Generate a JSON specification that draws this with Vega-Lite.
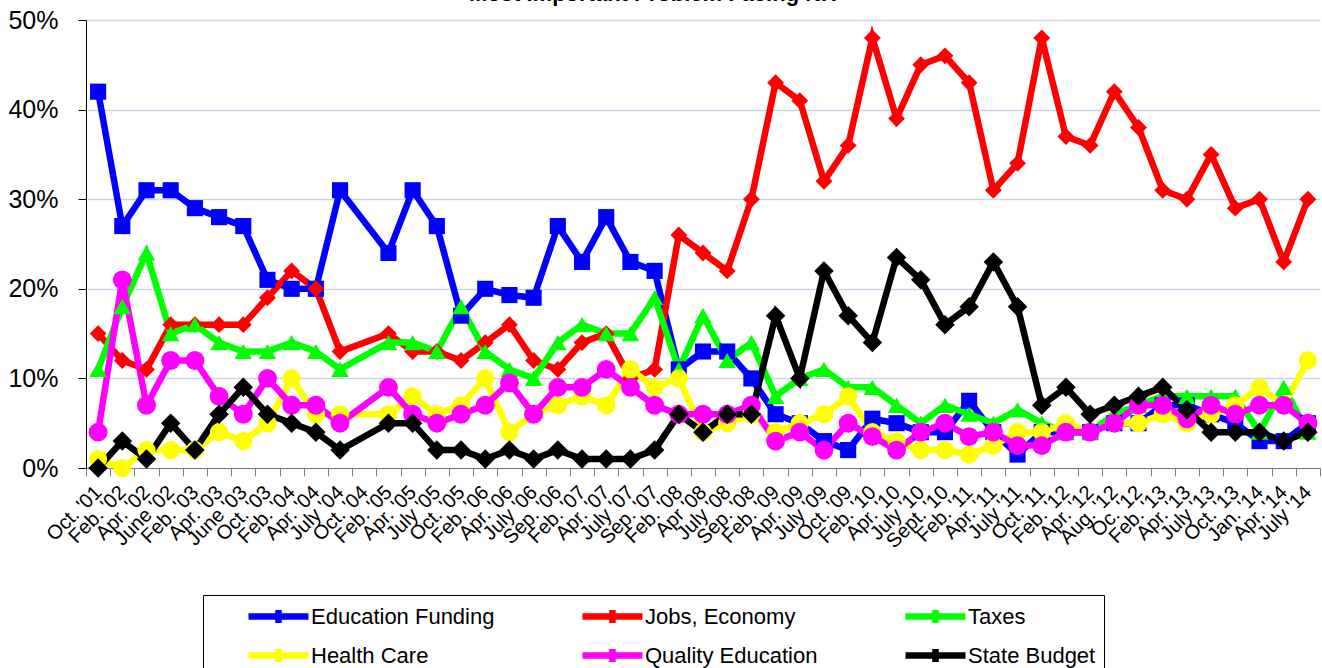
{
"$schema": "https://vega.github.io/schema/vega-lite/v6.json",
"width": 1234, "height": 448,
"autosize": {"type": "none"},
"padding": {"left": 86, "top": 20, "right": 2, "bottom": 200},
"background": "white",
"title": {"text": "Most Important Problem Facing NH", "font": "Liberation Sans", "fontSize": 22, "fontWeight": "bold", "color": "black", "anchor": "middle", "dx": -50, "dy": 4, "offset": -11, "baseline": "alphabetic"},
"config": {"view": {"stroke": null}, "font": "Liberation Sans"},
"datasets": {"t": [
{"d":"Oct. '01","s":"Education Funding","v":42},{"d":"Feb. '02","s":"Education Funding","v":27},{"d":"Apr. '02","s":"Education Funding","v":31},{"d":"June '02","s":"Education Funding","v":31},{"d":"Feb. '03","s":"Education Funding","v":29},{"d":"Apr. '03","s":"Education Funding","v":28},{"d":"June '03","s":"Education Funding","v":27},{"d":"Oct. '03","s":"Education Funding","v":21},{"d":"Feb. '04","s":"Education Funding","v":20},{"d":"Apr. '04","s":"Education Funding","v":20},{"d":"July '04","s":"Education Funding","v":31},{"d":"Feb. '05","s":"Education Funding","v":24},{"d":"Apr. '05","s":"Education Funding","v":31},{"d":"July '05","s":"Education Funding","v":27},{"d":"Oct. '05","s":"Education Funding","v":17},{"d":"Feb. '06","s":"Education Funding","v":20},{"d":"Apr. '06","s":"Education Funding","v":19.3},{"d":"July '06","s":"Education Funding","v":19},{"d":"Sep. '06","s":"Education Funding","v":27},{"d":"Feb. '07","s":"Education Funding","v":23},{"d":"Apr. '07","s":"Education Funding","v":28},{"d":"July '07","s":"Education Funding","v":23},{"d":"Sep. '07","s":"Education Funding","v":22},{"d":"Feb. '08","s":"Education Funding","v":11},{"d":"Apr '08","s":"Education Funding","v":13},{"d":"July '08","s":"Education Funding","v":13},{"d":"Sep. '08","s":"Education Funding","v":10},{"d":"Feb. '09","s":"Education Funding","v":6},{"d":"Apr. '09","s":"Education Funding","v":5},{"d":"July '09","s":"Education Funding","v":3},{"d":"Oct. '09","s":"Education Funding","v":2},{"d":"Feb. '10","s":"Education Funding","v":5.5},{"d":"Apr. '10","s":"Education Funding","v":5},{"d":"July '10","s":"Education Funding","v":4},{"d":"Sept. '10","s":"Education Funding","v":4},{"d":"Feb. '11","s":"Education Funding","v":7.5},{"d":"Apr. '11","s":"Education Funding","v":4},{"d":"July '11","s":"Education Funding","v":1.5},{"d":"Oct. '11","s":"Education Funding","v":4},{"d":"Feb. '12","s":"Education Funding","v":4},{"d":"Apr. '12","s":"Education Funding","v":4},{"d":"Aug. '12","s":"Education Funding","v":5},{"d":"Oc. '12","s":"Education Funding","v":5},{"d":"Feb. '13","s":"Education Funding","v":7},{"d":"Apr. '13","s":"Education Funding","v":7},{"d":"July '13","s":"Education Funding","v":6},{"d":"Oct. '13","s":"Education Funding","v":5},{"d":"Jan. '14","s":"Education Funding","v":3},{"d":"Apr. '14","s":"Education Funding","v":3},{"d":"July '14","s":"Education Funding","v":5},
{"d":"Oct. '01","s":"Jobs, Economy","v":15},{"d":"Feb. '02","s":"Jobs, Economy","v":12},{"d":"Apr. '02","s":"Jobs, Economy","v":11},{"d":"June '02","s":"Jobs, Economy","v":16},{"d":"Feb. '03","s":"Jobs, Economy","v":16},{"d":"Apr. '03","s":"Jobs, Economy","v":16},{"d":"June '03","s":"Jobs, Economy","v":16},{"d":"Oct. '03","s":"Jobs, Economy","v":19},{"d":"Feb. '04","s":"Jobs, Economy","v":22},{"d":"Apr. '04","s":"Jobs, Economy","v":20},{"d":"July '04","s":"Jobs, Economy","v":13},{"d":"Feb. '05","s":"Jobs, Economy","v":15},{"d":"Apr. '05","s":"Jobs, Economy","v":13},{"d":"July '05","s":"Jobs, Economy","v":13},{"d":"Oct. '05","s":"Jobs, Economy","v":12},{"d":"Feb. '06","s":"Jobs, Economy","v":14},{"d":"Apr. '06","s":"Jobs, Economy","v":16},{"d":"July '06","s":"Jobs, Economy","v":12},{"d":"Sep. '06","s":"Jobs, Economy","v":11},{"d":"Feb. '07","s":"Jobs, Economy","v":14},{"d":"Apr. '07","s":"Jobs, Economy","v":15},{"d":"July '07","s":"Jobs, Economy","v":10},{"d":"Sep. '07","s":"Jobs, Economy","v":11},{"d":"Feb. '08","s":"Jobs, Economy","v":26},{"d":"Apr '08","s":"Jobs, Economy","v":24},{"d":"July '08","s":"Jobs, Economy","v":22},{"d":"Sep. '08","s":"Jobs, Economy","v":30},{"d":"Feb. '09","s":"Jobs, Economy","v":43},{"d":"Apr. '09","s":"Jobs, Economy","v":41},{"d":"July '09","s":"Jobs, Economy","v":32},{"d":"Oct. '09","s":"Jobs, Economy","v":36},{"d":"Feb. '10","s":"Jobs, Economy","v":48},{"d":"Apr. '10","s":"Jobs, Economy","v":39},{"d":"July '10","s":"Jobs, Economy","v":45},{"d":"Sept. '10","s":"Jobs, Economy","v":46},{"d":"Feb. '11","s":"Jobs, Economy","v":43},{"d":"Apr. '11","s":"Jobs, Economy","v":31},{"d":"July '11","s":"Jobs, Economy","v":34},{"d":"Oct. '11","s":"Jobs, Economy","v":48},{"d":"Feb. '12","s":"Jobs, Economy","v":37},{"d":"Apr. '12","s":"Jobs, Economy","v":36},{"d":"Aug. '12","s":"Jobs, Economy","v":42},{"d":"Oc. '12","s":"Jobs, Economy","v":38},{"d":"Feb. '13","s":"Jobs, Economy","v":31},{"d":"Apr. '13","s":"Jobs, Economy","v":30},{"d":"July '13","s":"Jobs, Economy","v":35},{"d":"Oct. '13","s":"Jobs, Economy","v":29},{"d":"Jan. '14","s":"Jobs, Economy","v":30},{"d":"Apr. '14","s":"Jobs, Economy","v":23},{"d":"July '14","s":"Jobs, Economy","v":30},
{"d":"Oct. '01","s":"Taxes","v":11},{"d":"Feb. '02","s":"Taxes","v":18},{"d":"Apr. '02","s":"Taxes","v":24},{"d":"June '02","s":"Taxes","v":15},{"d":"Feb. '03","s":"Taxes","v":16},{"d":"Apr. '03","s":"Taxes","v":14},{"d":"June '03","s":"Taxes","v":13},{"d":"Oct. '03","s":"Taxes","v":13},{"d":"Feb. '04","s":"Taxes","v":14},{"d":"Apr. '04","s":"Taxes","v":13},{"d":"July '04","s":"Taxes","v":11},{"d":"Feb. '05","s":"Taxes","v":14},{"d":"Apr. '05","s":"Taxes","v":14},{"d":"July '05","s":"Taxes","v":13},{"d":"Oct. '05","s":"Taxes","v":18},{"d":"Feb. '06","s":"Taxes","v":13},{"d":"Apr. '06","s":"Taxes","v":11},{"d":"July '06","s":"Taxes","v":10},{"d":"Sep. '06","s":"Taxes","v":14},{"d":"Feb. '07","s":"Taxes","v":16},{"d":"Apr. '07","s":"Taxes","v":15},{"d":"July '07","s":"Taxes","v":15},{"d":"Sep. '07","s":"Taxes","v":19},{"d":"Feb. '08","s":"Taxes","v":11},{"d":"Apr '08","s":"Taxes","v":17},{"d":"July '08","s":"Taxes","v":12},{"d":"Sep. '08","s":"Taxes","v":14},{"d":"Feb. '09","s":"Taxes","v":8},{"d":"Apr. '09","s":"Taxes","v":10},{"d":"July '09","s":"Taxes","v":11},{"d":"Oct. '09","s":"Taxes","v":9},{"d":"Feb. '10","s":"Taxes","v":9},{"d":"Apr. '10","s":"Taxes","v":7},{"d":"July '10","s":"Taxes","v":5},{"d":"Sept. '10","s":"Taxes","v":7},{"d":"Feb. '11","s":"Taxes","v":6},{"d":"Apr. '11","s":"Taxes","v":5},{"d":"July '11","s":"Taxes","v":6.5},{"d":"Oct. '11","s":"Taxes","v":5},{"d":"Feb. '12","s":"Taxes","v":4},{"d":"Apr. '12","s":"Taxes","v":4},{"d":"Aug. '12","s":"Taxes","v":6},{"d":"Oc. '12","s":"Taxes","v":7},{"d":"Feb. '13","s":"Taxes","v":8},{"d":"Apr. '13","s":"Taxes","v":8},{"d":"July '13","s":"Taxes","v":8},{"d":"Oct. '13","s":"Taxes","v":8},{"d":"Jan. '14","s":"Taxes","v":4},{"d":"Apr. '14","s":"Taxes","v":9},{"d":"July '14","s":"Taxes","v":4},
{"d":"Oct. '01","s":"Health Care","v":1},{"d":"Feb. '02","s":"Health Care","v":0},{"d":"Apr. '02","s":"Health Care","v":2},{"d":"June '02","s":"Health Care","v":2},{"d":"Feb. '03","s":"Health Care","v":2},{"d":"Apr. '03","s":"Health Care","v":4},{"d":"June '03","s":"Health Care","v":3},{"d":"Oct. '03","s":"Health Care","v":5},{"d":"Feb. '04","s":"Health Care","v":10},{"d":"Apr. '04","s":"Health Care","v":6},{"d":"July '04","s":"Health Care","v":6},{"d":"Feb. '05","s":"Health Care","v":6},{"d":"Apr. '05","s":"Health Care","v":8},{"d":"July '05","s":"Health Care","v":6},{"d":"Oct. '05","s":"Health Care","v":7},{"d":"Feb. '06","s":"Health Care","v":10},{"d":"Apr. '06","s":"Health Care","v":4},{"d":"July '06","s":"Health Care","v":6},{"d":"Sep. '06","s":"Health Care","v":7},{"d":"Feb. '07","s":"Health Care","v":8},{"d":"Apr. '07","s":"Health Care","v":7},{"d":"July '07","s":"Health Care","v":11},{"d":"Sep. '07","s":"Health Care","v":9},{"d":"Feb. '08","s":"Health Care","v":10},{"d":"Apr '08","s":"Health Care","v":4},{"d":"July '08","s":"Health Care","v":5},{"d":"Sep. '08","s":"Health Care","v":6},{"d":"Feb. '09","s":"Health Care","v":4},{"d":"Apr. '09","s":"Health Care","v":5},{"d":"July '09","s":"Health Care","v":6},{"d":"Oct. '09","s":"Health Care","v":8},{"d":"Feb. '10","s":"Health Care","v":4},{"d":"Apr. '10","s":"Health Care","v":3},{"d":"July '10","s":"Health Care","v":2},{"d":"Sept. '10","s":"Health Care","v":2},{"d":"Feb. '11","s":"Health Care","v":1.5},{"d":"Apr. '11","s":"Health Care","v":2.5},{"d":"July '11","s":"Health Care","v":4},{"d":"Oct. '11","s":"Health Care","v":4},{"d":"Feb. '12","s":"Health Care","v":5},{"d":"Apr. '12","s":"Health Care","v":4},{"d":"Aug. '12","s":"Health Care","v":5},{"d":"Oc. '12","s":"Health Care","v":5},{"d":"Feb. '13","s":"Health Care","v":6},{"d":"Apr. '13","s":"Health Care","v":5},{"d":"July '13","s":"Health Care","v":6},{"d":"Oct. '13","s":"Health Care","v":7},{"d":"Jan. '14","s":"Health Care","v":9},{"d":"Apr. '14","s":"Health Care","v":7},{"d":"July '14","s":"Health Care","v":12},
{"d":"Oct. '01","s":"Quality Education","v":4},{"d":"Feb. '02","s":"Quality Education","v":21},{"d":"Apr. '02","s":"Quality Education","v":7},{"d":"June '02","s":"Quality Education","v":12},{"d":"Feb. '03","s":"Quality Education","v":12},{"d":"Apr. '03","s":"Quality Education","v":8},{"d":"June '03","s":"Quality Education","v":6},{"d":"Oct. '03","s":"Quality Education","v":10},{"d":"Feb. '04","s":"Quality Education","v":7},{"d":"Apr. '04","s":"Quality Education","v":7},{"d":"July '04","s":"Quality Education","v":5},{"d":"Feb. '05","s":"Quality Education","v":9},{"d":"Apr. '05","s":"Quality Education","v":6},{"d":"July '05","s":"Quality Education","v":5},{"d":"Oct. '05","s":"Quality Education","v":6},{"d":"Feb. '06","s":"Quality Education","v":7},{"d":"Apr. '06","s":"Quality Education","v":9.5},{"d":"July '06","s":"Quality Education","v":6},{"d":"Sep. '06","s":"Quality Education","v":9},{"d":"Feb. '07","s":"Quality Education","v":9},{"d":"Apr. '07","s":"Quality Education","v":11},{"d":"July '07","s":"Quality Education","v":9},{"d":"Sep. '07","s":"Quality Education","v":7},{"d":"Feb. '08","s":"Quality Education","v":6},{"d":"Apr '08","s":"Quality Education","v":6},{"d":"July '08","s":"Quality Education","v":6},{"d":"Sep. '08","s":"Quality Education","v":7},{"d":"Feb. '09","s":"Quality Education","v":3},{"d":"Apr. '09","s":"Quality Education","v":4},{"d":"July '09","s":"Quality Education","v":2},{"d":"Oct. '09","s":"Quality Education","v":5},{"d":"Feb. '10","s":"Quality Education","v":3.5},{"d":"Apr. '10","s":"Quality Education","v":2},{"d":"July '10","s":"Quality Education","v":4},{"d":"Sept. '10","s":"Quality Education","v":5},{"d":"Feb. '11","s":"Quality Education","v":3.5},{"d":"Apr. '11","s":"Quality Education","v":4},{"d":"July '11","s":"Quality Education","v":2.5},{"d":"Oct. '11","s":"Quality Education","v":2.5},{"d":"Feb. '12","s":"Quality Education","v":4},{"d":"Apr. '12","s":"Quality Education","v":4},{"d":"Aug. '12","s":"Quality Education","v":5},{"d":"Oc. '12","s":"Quality Education","v":7},{"d":"Feb. '13","s":"Quality Education","v":7},{"d":"Apr. '13","s":"Quality Education","v":5.5},{"d":"July '13","s":"Quality Education","v":7},{"d":"Oct. '13","s":"Quality Education","v":6},{"d":"Jan. '14","s":"Quality Education","v":7},{"d":"Apr. '14","s":"Quality Education","v":7},{"d":"July '14","s":"Quality Education","v":5},
{"d":"Oct. '01","s":"State Budget","v":0},{"d":"Feb. '02","s":"State Budget","v":3},{"d":"Apr. '02","s":"State Budget","v":1},{"d":"June '02","s":"State Budget","v":5},{"d":"Feb. '03","s":"State Budget","v":2},{"d":"Apr. '03","s":"State Budget","v":6},{"d":"June '03","s":"State Budget","v":9},{"d":"Oct. '03","s":"State Budget","v":6},{"d":"Feb. '04","s":"State Budget","v":5},{"d":"Apr. '04","s":"State Budget","v":4},{"d":"July '04","s":"State Budget","v":2},{"d":"Feb. '05","s":"State Budget","v":5},{"d":"Apr. '05","s":"State Budget","v":5},{"d":"July '05","s":"State Budget","v":2},{"d":"Oct. '05","s":"State Budget","v":2},{"d":"Feb. '06","s":"State Budget","v":1},{"d":"Apr. '06","s":"State Budget","v":2},{"d":"July '06","s":"State Budget","v":1},{"d":"Sep. '06","s":"State Budget","v":2},{"d":"Feb. '07","s":"State Budget","v":1},{"d":"Apr. '07","s":"State Budget","v":1},{"d":"July '07","s":"State Budget","v":1},{"d":"Sep. '07","s":"State Budget","v":2},{"d":"Feb. '08","s":"State Budget","v":6},{"d":"Apr '08","s":"State Budget","v":4},{"d":"July '08","s":"State Budget","v":6},{"d":"Sep. '08","s":"State Budget","v":6},{"d":"Feb. '09","s":"State Budget","v":17},{"d":"Apr. '09","s":"State Budget","v":10},{"d":"July '09","s":"State Budget","v":22},{"d":"Oct. '09","s":"State Budget","v":17},{"d":"Feb. '10","s":"State Budget","v":14},{"d":"Apr. '10","s":"State Budget","v":23.5},{"d":"July '10","s":"State Budget","v":21},{"d":"Sept. '10","s":"State Budget","v":16},{"d":"Feb. '11","s":"State Budget","v":18},{"d":"Apr. '11","s":"State Budget","v":23},{"d":"July '11","s":"State Budget","v":18},{"d":"Oct. '11","s":"State Budget","v":7},{"d":"Feb. '12","s":"State Budget","v":9},{"d":"Apr. '12","s":"State Budget","v":6},{"d":"Aug. '12","s":"State Budget","v":7},{"d":"Oc. '12","s":"State Budget","v":8},{"d":"Feb. '13","s":"State Budget","v":9},{"d":"Apr. '13","s":"State Budget","v":6.5},{"d":"July '13","s":"State Budget","v":4},{"d":"Oct. '13","s":"State Budget","v":4},{"d":"Jan. '14","s":"State Budget","v":4},{"d":"Apr. '14","s":"State Budget","v":3},{"d":"July '14","s":"State Budget","v":4}
]},
"data": {"name": "t"},
"encoding": {
  "x": {"field": "d", "type": "ordinal", "title": null,
    "scale": {"type": "band", "paddingInner": 0, "paddingOuter": 0, "domain": ["Oct. '01","Feb. '02","Apr. '02","June '02","Feb. '03","Apr. '03","June '03","Oct. '03","Feb. '04","Apr. '04","July '04","Oct. '04","Feb. '05","Apr. '05","July '05","Oct. '05","Feb. '06","Apr. '06","July '06","Sep. '06","Feb. '07","Apr. '07","July '07","Sep. '07","Feb. '08","Apr '08","July '08","Sep. '08","Feb. '09","Apr. '09","July '09","Oct. '09","Feb. '10","Apr. '10","July '10","Sept. '10","Feb. '11","Apr. '11","July '11","Oct. '11","Feb. '12","Apr. '12","Aug. '12","Oc. '12","Feb. '13","Apr. '13","July '13","Oct. '13","Jan. '14","Apr. '14","July '14"]},
    "axis": {"labelAngle": -45, "labelAlign": "right", "labelBaseline": "middle", "labelFont": "Liberation Sans", "labelFontSize": 20, "labelColor": "black", "labelPadding": 13, "labelOverlap": false, "labelLimit": 200, "tickBand": "extent", "tickSize": 8, "tickColor": "#808080", "domainColor": "#808080", "grid": false}},
  "y": {"field": "v", "type": "quantitative", "title": null,
    "scale": {"domain": [0, 50], "nice": false},
    "axis": {"values": [0, 10, 20, 30, 40, 50], "labelExpr": "datum.value + '%'", "labelFont": "Liberation Sans", "labelFontSize": 25, "labelColor": "black", "labelPadding": 20, "tickSize": 8, "tickColor": "black", "domainColor": "black", "grid": true, "gridColor": "#C9D5E9", "gridWidth": 1.3}}
},
"layer": [
  {"mark": {"type": "line", "strokeWidth": 6.5},
   "encoding": {
     "order": {"value": null},
     "color": {"field": "s", "type": "nominal",
       "scale": {"domain": ["Education Funding", "Jobs, Economy", "Taxes", "Health Care", "Quality Education", "State Budget"], "range": ["#0000FF", "#FF0000", "#00FF00", "#FFFF00", "#FF00FF", "#000000"]},
       "legend": {"orient": "none", "legendX": 117, "legendY": 575, "direction": "horizontal", "columns": 3, "title": null, "labelFont": "Liberation Sans", "labelFontSize": 22, "labelColor": "black", "labelLimit": 400, "symbolType": "M2.4,0H8.4M5.4,-0.65V0.65", "symbolSize": 400, "symbolStrokeWidth": 6.5, "labelOffset": 73, "columnPadding": 50, "rowPadding": 0, "padding": 8, "strokeColor": "black", "fillColor": "white", "gridAlign": "each"}}}},
  {"mark": {"type": "point", "filled": true, "opacity": 1},
   "encoding": {
     "color": {"field": "s", "type": "nominal", "legend": null},
     "shape": {"field": "s", "type": "nominal", "legend": null, "scale": {"domain": ["Education Funding", "Jobs, Economy", "Taxes", "Health Care", "Quality Education", "State Budget"], "range": ["square", "diamond", "triangle-up", "circle", "circle", "diamond"]}},
     "size": {"field": "s", "type": "nominal", "legend": null, "scale": {"domain": ["Education Funding", "Jobs, Economy", "Taxes", "Health Care", "Quality Education", "State Budget"], "range": [260, 380, 300, 280, 280, 380]}}}}
],
"resolve": {"legend": {"color": "independent"}}
}
